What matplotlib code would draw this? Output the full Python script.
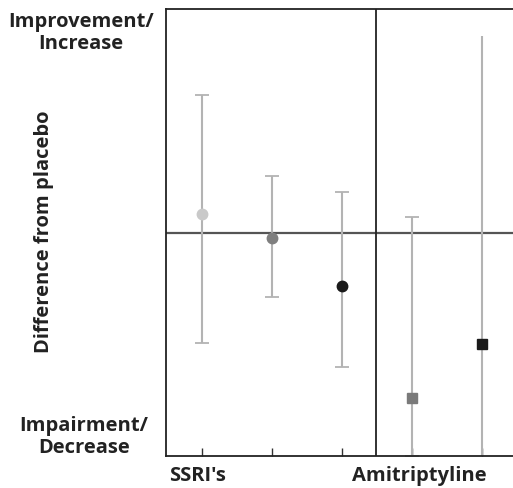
import matplotlib
matplotlib.use("Agg")
import matplotlib.pyplot as plt

groups = ["SSRI's", "Amitriptyline"]
positions = [1, 2, 3, 4, 5]
values = [0.083, -0.025, -0.239, -0.74, -0.499]
upper = [0.615, 0.253, 0.181, 0.069, 0.879]
lower = [-0.494, -0.289, -0.602, -1.0, -1.0]
markers = ['o', 'o', 'o', 's', 's']
colors = ['#c9c9c9', '#7f7f7f', '#1a1a1a', '#7a7a7a', '#1a1a1a']
caps = [True, True, True, True, False]

W, H = 513, 489
fig = plt.figure(figsize=(W/100, H/100), dpi=100)
left, right, top, bottom = 166, 520, 10, 457
ax = fig.add_axes([left/W, 1-bottom/H, (right-left)/W, (bottom-top)/H])
ax.set_xlim(0.486, 1 + (right-202)/70.0)
ax.set_ylim(-1, 1)

for x, v, u, l, m, c, cp in zip(positions, values, upper, lower, markers, colors, caps):
    ax.errorbar([x], [v], yerr=[[v-l], [u-v]], fmt='none', ecolor='#b3b3b3',
                elinewidth=1.5, capsize=5 if cp else 0, capthick=1.3, zorder=2, clip_on=False)
    ax.plot([x], [v], marker=m, color=c, markersize=7.5 if m == 'o' else 7,
            linestyle='none', zorder=3)

ax.axhline(0, color='#555555', lw=1.6, zorder=1)
ax.axvline(3.49, color='#222222', lw=1.3, zorder=1)

for s in ['left', 'top', 'bottom']:
    ax.spines[s].set_linewidth(1.3)
    ax.spines[s].set_color('#222222')
ax.spines['right'].set_visible(False)

ax.set_xticks(positions)
ax.set_xticklabels([])
ax.tick_params(axis='x', direction='in', length=6, width=1, color='#333333')
ax.set_yticks([])

font = dict(family=['Open Sans', 'DejaVu Sans'], fontweight='bold', color='#222222')
fs = 14.5
fig.text(198/W, 1-476/H, groups[0], ha='center', va='center', fontsize=fs, **font)
fig.text(419/W, 1-476/H, groups[1], ha='center', va='center', fontsize=fs, **font)
fig.text(81/W, 1-33/H, "Improvement/\nIncrease", ha='center', va='center',
         fontsize=fs, linespacing=1.15, **font)
fig.text(84/W, 1-437/H, "Impairment/\nDecrease", ha='center', va='center',
         fontsize=fs, linespacing=1.15, **font)
fig.text(44/W, 1-232/H, "Difference from placebo", ha='center', va='center',
         rotation=90, fontsize=fs, **font)

fig.savefig('out.png', dpi=100)
